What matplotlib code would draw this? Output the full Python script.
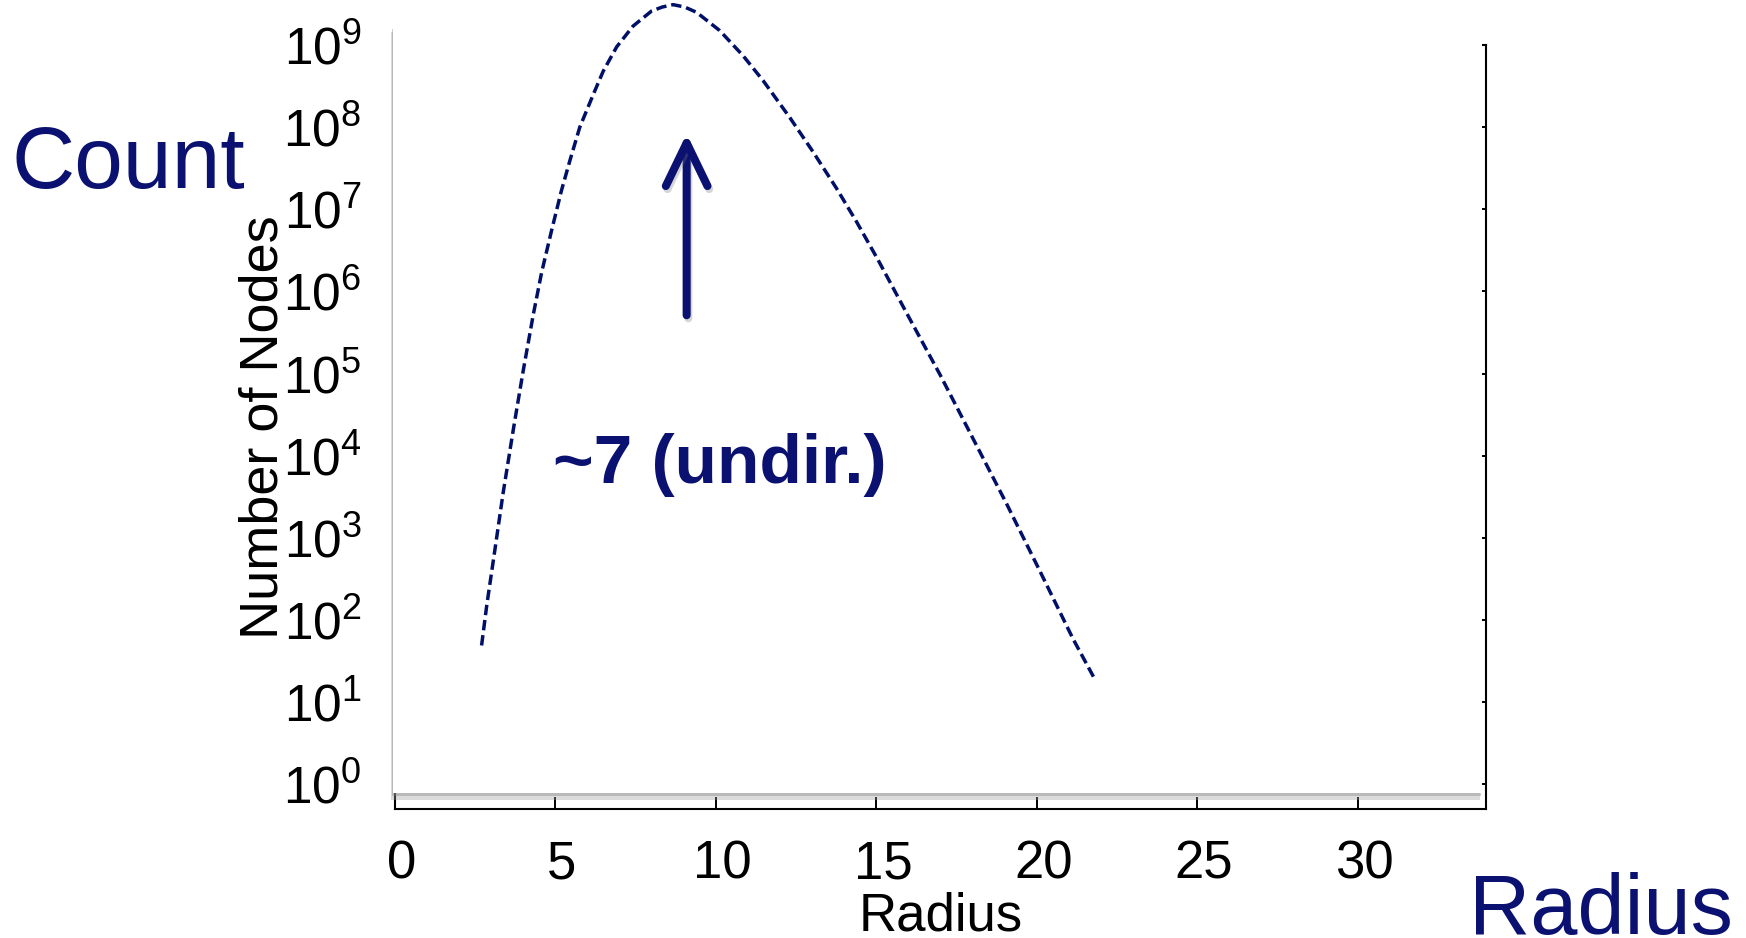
import matplotlib
matplotlib.use("Agg")
import matplotlib.pyplot as plt
import matplotlib.patheffects as pe
from matplotlib.patches import Rectangle
from matplotlib.ticker import LogLocator, NullLocator
from matplotlib.transforms import ScaledTranslation

plt.rcParams["font.family"] = ["Liberation Sans", "DejaVu Sans"]
plt.rcParams["mathtext.fontset"] = "custom"
plt.rcParams["mathtext.rm"] = "Liberation Sans"
plt.rcParams["mathtext.it"] = "Liberation Sans:italic"
plt.rcParams["mathtext.bf"] = "Liberation Sans:bold"

# dashed curve (radius, number of nodes)
radius = [2.70, 2.86, 3.12, 3.37, 3.69, 4.00, 4.31, 4.57, 4.88, 5.19, 5.45, 5.76,
          6.18, 6.49, 6.91, 7.42, 8.00, 8.33, 8.67, 9.03, 9.40, 10.12, 10.85,
          11.47, 12.31, 13.03, 13.76, 14.38, 15.06, 15.94, 16.98, 18.02, 19.06,
          20.09, 21.13, 21.81]
nodes = [4.9e1, 1.5e2, 7.4e2, 3.5e3, 2.1e4, 1.1e5, 5.2e5, 1.7e6, 5.5e6, 1.7e7,
         3.9e7, 1.0e8, 2.5e8, 4.8e8, 9.5e8, 1.7e9, 2.6e9, 2.9e9, 3.1e9, 2.9e9,
         2.5e9, 1.5e9, 7.4e8, 3.7e8, 1.3e8, 5.0e7, 1.8e7, 7.1e6, 2.4e6, 5.5e5,
         9.8e4, 1.6e4, 2.6e3, 4.0e2, 5.9e1, 1.9e1]

x_ticks = [0, 5, 10, 15, 20, 25, 30]
x_range = (0, 34)
y_range = (0.5, 1e9)

# annotation arrow: radius and the span it points along
arrow_x = 9.09
arrow_from, arrow_to = 10 ** 5.71, 10 ** 7.92

navy = "#0b1170"
curve_col = "#001068"

fig = plt.figure(figsize=(17.46, 9.38), dpi=100)
ax = fig.add_axes([0.2262, 0.1375, 0.6249, 0.8145])

ax.set_yscale("log")
ax.set_xlim(*x_range)
ax.set_ylim(*y_range)
ax.set_xticks(x_ticks)
ax.yaxis.set_major_locator(LogLocator(base=10, numticks=15))
ax.yaxis.set_minor_locator(NullLocator())

for s in ax.spines.values():
    s.set_linewidth(1.5)
ax.tick_params(axis="x", direction="in", length=8.5, width=1.4, labelsize=38, pad=22,
               top=False)
ax.tick_params(axis="y", direction="in", length=7, width=1.4, labelsize=37, pad=24,
               left=True, right=True, labelleft=True)

# matlab-style slight right shift of the x tick labels
shift = ScaledTranslation(4.8 / 72, 0, fig.dpi_scale_trans)
for lab in ax.get_xticklabels():
    lab.set_transform(lab.get_transform() + shift)

ax.set_xlabel("Radius", fontsize=38)
ax.xaxis.set_label_coords(0.5, -0.108)
ax.set_ylabel("Number of Nodes", fontsize=39)
ax.yaxis.set_label_coords(-0.098, 0.5)

# white overlay box with a soft shadow (left / bottom)
box = Rectangle((0.2251, 0.1546), 0.6237, 0.8187, transform=fig.transFigure,
                facecolor="white", edgecolor="none", zorder=2.6, clip_on=False)
box.set_path_effects([pe.SimplePatchShadow(offset=(-1.2, -5), shadow_rgbFace="#9a9a9a", alpha=0.35),
                      pe.SimplePatchShadow(offset=(-0.6, -2.5), shadow_rgbFace="#888888", alpha=0.4),
                      pe.Normal()])
ax.add_patch(box)

ax.plot(radius, nodes, color=curve_col, lw=2.5, ls=(0, (3.0, 1.4)),
        clip_on=False, zorder=3)

ann = ax.annotate("", xy=(arrow_x, arrow_to), xytext=(arrow_x, arrow_from),
                  arrowprops=dict(arrowstyle="->,head_length=1.55,head_width=0.75",
                                  lw=5.8, color=navy, shrinkA=0, shrinkB=0,
                                  mutation_scale=20, capstyle="round",
                                  joinstyle="round"),
                  zorder=4)
ann.arrow_patch.set_path_effects([pe.SimpleLineShadow(offset=(1.2, -2.2), shadow_color="#777777", alpha=0.3),
                                  pe.Normal()])

fig.text(0.3167, 0.485, "~7 (undir.)", fontsize=50, fontweight="bold", color=navy,
         ha="left", va="baseline", zorder=5)
fig.text(0.0065, 0.80, "Count", fontsize=63, color=navy, ha="left", va="baseline")
fig.text(0.9925, 0.004, "Radius", fontsize=61, color=navy, ha="right", va="baseline")

fig.savefig("out.png", dpi=100, facecolor="white")
